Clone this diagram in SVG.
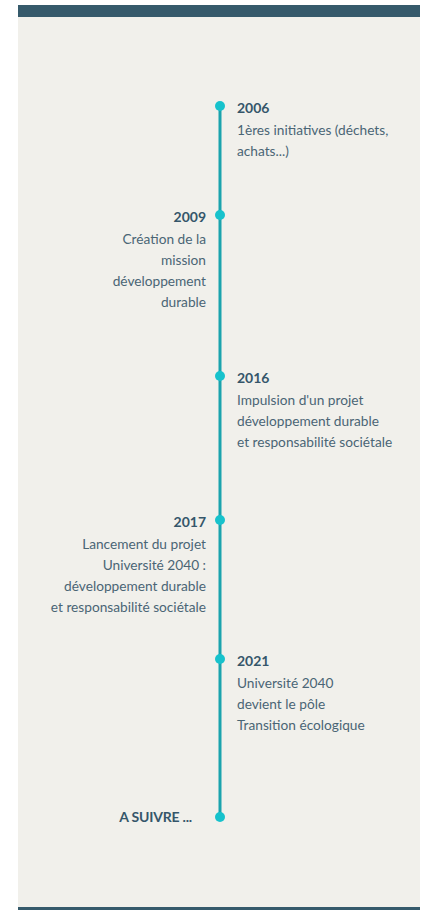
<svg xmlns="http://www.w3.org/2000/svg" width="424" height="910" viewBox="0 0 424 910">
<style>
.yr{font-family:Lato,"Liberation Sans",sans-serif;font-weight:700;font-size:14px;fill:#35566a}
.tx{font-family:Lato,"Liberation Sans",sans-serif;font-size:13.7px;fill:#4a6575}
.r{text-anchor:end}
.dot{fill:#17c2cc}
</style>
<rect x="0" y="0" width="424" height="910" fill="#ffffff"/>
<rect x="18" y="5" width="402" height="904" fill="#f1f0eb"/>
<rect x="18" y="5" width="402" height="12" fill="#365a6b"/>
<rect x="18" y="907" width="402" height="3" fill="#365a6b"/>
<g id="connectors">
<line x1="220" y1="106" x2="220" y2="817" stroke="#1ba3ad" stroke-width="3"/>
</g>
<g id="n2006">
<circle class="dot" cx="220" cy="106" r="5"/>
<text class="yr" x="237" y="113">2006</text>
<text class="tx" x="237" y="135">1ères initiatives (déchets,</text>
<text class="tx" x="237" y="156">achats...)</text>
</g>
<g id="n2009">
<circle class="dot" cx="220" cy="215" r="5"/>
<text class="yr r" x="206" y="222">2009</text>
<text class="tx r" x="206" y="244">Création de la</text>
<text class="tx r" x="206" y="265">mission</text>
<text class="tx r" x="206" y="286">développement</text>
<text class="tx r" x="206" y="307">durable</text>
</g>
<g id="n2016">
<circle class="dot" cx="220" cy="376" r="5"/>
<text class="yr" x="237" y="383">2016</text>
<text class="tx" x="237" y="405">Impulsion d'un projet</text>
<text class="tx" x="237" y="426">développement durable</text>
<text class="tx" x="237" y="447">et responsabilité sociétale</text>
</g>
<g id="n2017">
<circle class="dot" cx="220" cy="520" r="5"/>
<text class="yr r" x="206" y="527">2017</text>
<text class="tx r" x="206" y="549">Lancement du projet</text>
<text class="tx r" x="206" y="570">Université 2040 :</text>
<text class="tx r" x="206" y="591">développement durable</text>
<text class="tx r" x="206" y="612">et responsabilité sociétale</text>
</g>
<g id="n2021">
<circle class="dot" cx="220" cy="659" r="5"/>
<text class="yr" x="237" y="666">2021</text>
<text class="tx" x="237" y="688">Université 2040</text>
<text class="tx" x="237" y="709">devient le pôle</text>
<text class="tx" x="237" y="730">Transition écologique</text>
</g>
<g id="suivre">
<circle class="dot" cx="220" cy="817" r="5"/>
<text class="yr r" x="192" y="822" letter-spacing="-0.2">A SUIVRE ...</text>
</g>
</svg>
